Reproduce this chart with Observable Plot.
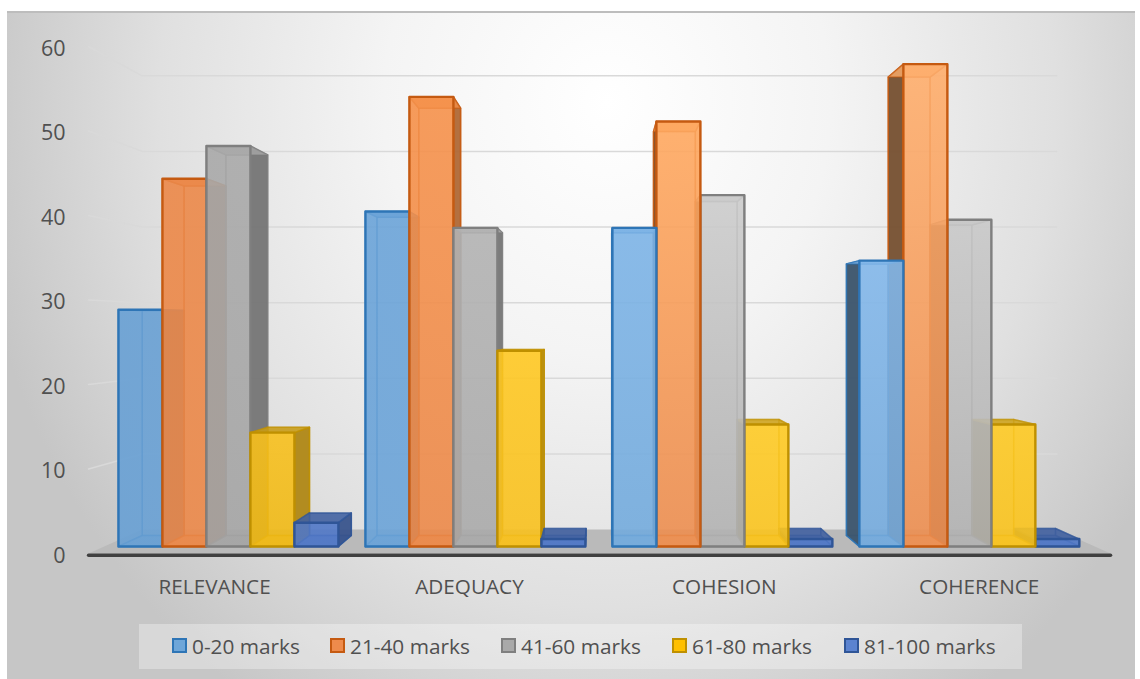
<!DOCTYPE html>
<html>
<head>
<meta charset="utf-8">
<script src="https://cdn.jsdelivr.net/npm/d3@7"></script>
<script src="https://cdn.jsdelivr.net/npm/@observablehq/plot@0.6"></script>
<style>
  html, body { margin: 0; padding: 0; background: #fff; }
  #page { position: relative; width: 1140px; height: 679px; overflow: hidden; font-family: "Open Sans", sans-serif; }
  #panel { position: absolute; left: 7px; top: 11px; width: 1128px; height: 668px; box-sizing: border-box;
    border-top: 2px solid #bdbdbd;
    background: radial-gradient(ellipse 640px 720px at 600px 90px, #ffffff 0%, #f4f4f4 35%, #e0e0e0 70%, #c6c6c6 100%); }
  #chart { position: absolute; left: 0; top: 0; }
  #legend { position: absolute; left: 139px; top: 624px; width: 883px; height: 45px; background: rgba(255,255,255,.32); }
  .item { position: absolute; top: -1px; height: 45px; display: flex; align-items: center; color: #505050; font-size: 20.8px; white-space: nowrap; }
  .swatch { width: 11px; height: 11px; border: 2px solid; margin-right: 5px; }
</style>
</head>
<body>
<div id="page">
  <div id="panel"></div>
  <div id="chart"></div>
  <div id="legend"></div>
</div>
<script>
const categories = ["RELEVANCE", "ADEQUACY", "COHESION", "COHERENCE"];
const seriesNames = ["0-20 marks", "21-40 marks", "41-60 marks", "61-80 marks", "81-100 marks"];

const marks0to20 = [28.9, 40.9, 38.9, 34.9];
const marks21to40 = [44.9, 54.9, 51.9, 58.9];
const marks41to60 = [48.9, 38.9, 42.9, 39.9];
const marks61to80 = [13.9, 23.9, 14.9, 14.9];
const marks81to100 = [2.9, 0.9, 0.9, 0.9];
const seriesValues = [marks0to20, marks21to40, marks41to60, marks61to80, marks81to100];
const yTicks = [0, 10, 20, 30, 40, 50, 60];

// Edge colour, legend colour, and front-face shades (top and bottom) per category
const edgeColors = ["#2e75b6", "#c55a11", "#7f7f7f", "#bf9000", "#2f5597"];
const swatchColors = ["#6ea6d9", "#ee8b4c", "#a9a9a9", "#ffc000", "#5b83d0"];
const frontTop = [
  ["#68a0d4", "#6aa3d8", "#7cb3e6", "#82b7ea"],
  ["#ec8848", "#f6914a", "#ffa85f", "#ffae6c"],
  ["#a9a9a9", "#b2b2b2", "#cccccc", "#c9c9c9"],
  ["#f8c01c", "#ffc821", "#ffcb24", "#ffcb24"],
  ["#4f77c7", "#4f77c7", "#4f77c7", "#4f77c7"]
];
const frontBottom = [
  ["#68a0d4", "#6aa3d8", "#72aadc", "#72a9dc"],
  ["#ec8848", "#ec8848", "#ec8c4e", "#ec8c4e"],
  ["#a5a5a5", "#a9a9a9", "#b0b0b0", "#b0b0b0"],
  ["#f0b912", "#f8c01c", "#fac31c", "#fac31c"],
  ["#4f77c7", "#4f77c7", "#4f77c7", "#4f77c7"]
];

// Perspective: positions shrink toward a vanishing point, in data units
const vanishX = 10.91, vanishV = 26.98;
const project = (slot, value, depth) => ({
  x: vanishX + (slot - vanishX) * depth,
  y: vanishV + (value - vanishV) * depth
});
const groupStep = 5.614;
const frontDepth = 0.969, backDepth = 0.921, wallDepth = 0.895;
const floorLeft = -0.32, floorRight = 22.19;

const face = (points, options) => Plot.line(points, {x: "x", y: "y", curve: "linear-closed", ...options});

function shade(color, k) {
  const c = d3.rgb(color);
  return d3.rgb(c.r * k, c.g * k, c.b * k).formatHex();
}

// One translucent box, painted from the far faces to the front face
function barMarks(series, group) {
  const value = seriesValues[series][group];
  const x0 = group * groupStep + series, x1 = x0 + 1;
  const corner = (x, v, d) => project(x, v, d);
  const base = frontTop[series][group];
  const edge = edgeColors[series];
  const thin = {stroke: edge, strokeWidth: 1.5, strokeOpacity: 0.55};
  const f = frontDepth, b = backDepth;
  const onLeftOfCentre = x0 < vanishX;
  const side = onLeftOfCentre
    ? {pts: [corner(x1, 0, f), corner(x1, 0, b), corner(x1, value, b), corner(x1, value, f)], k: 0.7, a: 0.92}
    : {pts: [corner(x0, 0, f), corner(x0, 0, b), corner(x0, value, b), corner(x0, value, f)], k: 0.46, a: 0.95};
  const hidden = onLeftOfCentre
    ? [corner(x0, 0, f), corner(x0, 0, b), corner(x0, value, b), corner(x0, value, f)]
    : [corner(x1, 0, f), corner(x1, 0, b), corner(x1, value, b), corner(x1, value, f)];
  return [
    face([corner(x0, 0, b), corner(x1, 0, b), corner(x1, value, b), corner(x0, value, b)], {fill: base, fillOpacity: 0.25, ...thin}),
    face(hidden, {fill: base, fillOpacity: 0.3, ...thin}),
    face([corner(x0, 0, f), corner(x1, 0, f), corner(x1, 0, b), corner(x0, 0, b)], {fill: base, fillOpacity: 0.6, ...thin}),
    face(side.pts, {fill: shade(edge === "#7f7f7f" ? "#a5a5a5" : base, side.k), fillOpacity: side.a, ...thin, strokeOpacity: 0.9}),
    face([corner(x0, value, f), corner(x1, value, f), corner(x1, value, b), corner(x0, value, b)],
      {fill: shade(base, value > vanishV ? 0.97 : 0.8), fillOpacity: 0.85, ...thin}),
    face([corner(x0, 0, f), corner(x1, 0, f), corner(x1, value, f), corner(x0, value, f)],
      {fill: `url(#front-${series}-${group})`, fillOpacity: 0.86, stroke: edge, strokeWidth: 2.4})
  ];
}

// Bars left of the vanishing point paint left to right, those right of it the other way
function groupMarks(group) {
  const order = [0, 1, 2, 3, 4];
  const start = group * groupStep;
  if (start >= vanishX) order.reverse();
  return order.flatMap((s) => barMarks(s, group));
}

const gradientDefs = () => {
  const defs = d3.create("svg:defs");
  seriesNames.forEach((_, s) => categories.forEach((_, g) => {
    const lg = defs.append("linearGradient").attr("id", `front-${s}-${g}`)
      .attr("x1", 0).attr("y1", 0).attr("x2", 0).attr("y2", 1);
    lg.append("stop").attr("offset", 0).attr("stop-color", frontTop[s][g]);
    lg.append("stop").attr("offset", 1).attr("stop-color", frontBottom[s][g]);
  }));
  return defs.node();
};

const floorPoints = [
  project(floorLeft, 0, 1), project(floorRight, 0, 1),
  project(floorRight, 0, wallDepth), project(floorLeft, 0, wallDepth)
];
const gridRows = yTicks.slice(1).flatMap((v) => [
  {tick: v, ...project(floorLeft, v, 1)},
  {tick: v, ...project(floorLeft, v, wallDepth)},
  {tick: v, ...project(floorRight, v, wallDepth)}
]);
const axisLine = [
  {x: floorLeft, y: -0.2},
  {x: floorRight, y: -0.2}
];
const categoryTicks = categories.map((_, g) => g * groupStep + 2.5);

const chart = Plot.plot({
  width: 1140,
  height: 620,
  marginLeft: 65,
  marginBottom: 41,
  marginTop: 0,
  marginRight: 0,
  style: {background: "transparent", overflow: "visible"},
  x: {domain: [0, 1], range: [102.6, 148]},
  y: {domain: [0, 60], range: [553, 46]},
  marks: [
    gradientDefs,
    Plot.line(gridRows, {x: "x", y: "y", z: "tick", stroke: "#d9d9d9", strokeWidth: 1.5}),
    face(floorPoints, {fill: "#bababa", stroke: "none"}),
    Plot.line(axisLine, {x: "x", y: "y", stroke: "#404040", strokeWidth: 3.5, strokeLinecap: "round"}),
    ...categories.flatMap((_, g) => groupMarks(g)),
    Plot.axisY(yTicks, {anchor: "left", tickSize: 0, tickPadding: 0, label: null, fontSize: 21.5, fill: "#505050", dy: 2.5, fontFamily: "Open Sans"}),
    Plot.axisX(categoryTicks, {anchor: "bottom", tickSize: 0, tickPadding: 0, label: null, fontSize: 20.7, dx: -2, fill: "#505050", fontFamily: "Open Sans",
      tickFormat: (d) => categories[categoryTicks.indexOf(d)]})
  ]
});
document.getElementById("chart").append(chart);

// Legend row beneath the plot
const legend = document.getElementById("legend");
const itemLefts = [33, 191, 362, 533, 705];
seriesNames.forEach((name, s) => {
  const item = document.createElement("div");
  item.className = "item";
  item.style.left = itemLefts[s] + "px";
  const swatch = document.createElement("span");
  swatch.className = "swatch";
  swatch.style.background = swatchColors[s];
  swatch.style.borderColor = edgeColors[s];
  item.append(swatch, name);
  legend.append(item);
});
</script>
</body>
</html>
